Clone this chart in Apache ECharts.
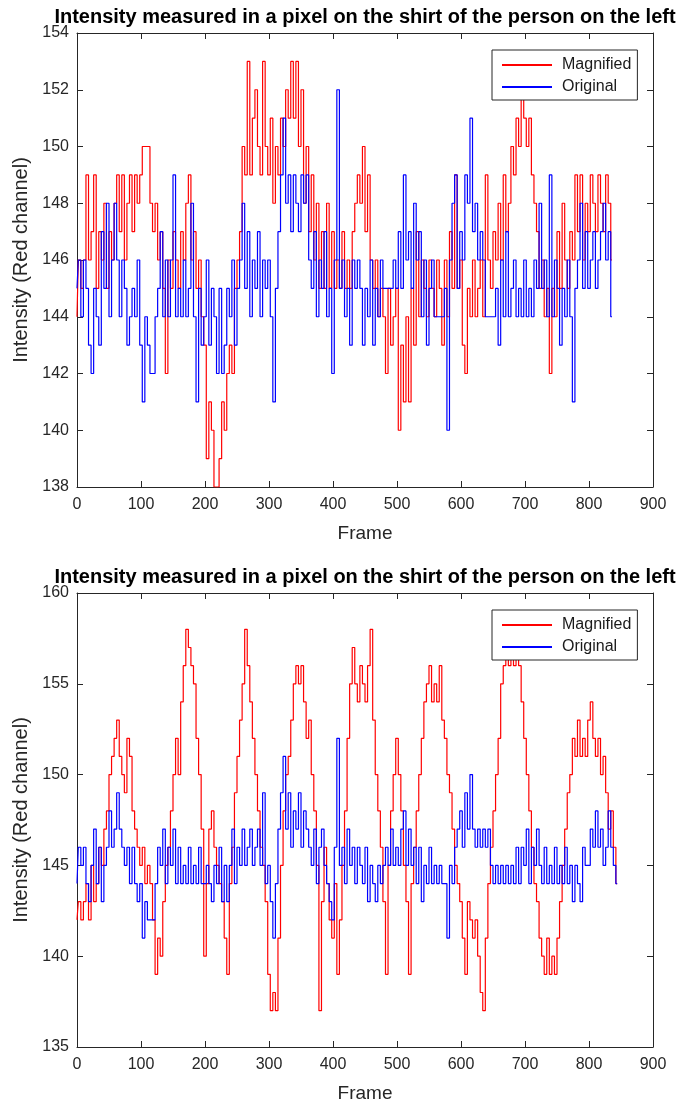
<!DOCTYPE html>
<html>
<head>
<meta charset="utf-8">
<title>Intensity</title>
<script src="https://cdn.jsdelivr.net/npm/echarts@6.0.0/dist/echarts.min.js"></script>
<style>
    body{margin:0;background:#fff;}
    #chart{width:678px;height:1106px;}
</style>
</head>
<body>
<div id="chart"></div>
<script>
// 帧间隔（每个数值对应的帧数）
var frameStep = 4;
var xTicks = [0, 100, 200, 300, 400, 500, 600, 700, 800, 900];
var topYTicks = [138, 140, 142, 144, 146, 148, 150, 152, 154];
var bottomYTicks = [135, 140, 145, 150, 155, 160];
var seriesNames = ['Magnified', 'Original'];
var titleText = 'Intensity measured in a pixel on the shirt of the person on the left';

// 上图 Magnified（红），每行 100 帧
var topMagnified = [
    144,146,145,146,149,146,147,149,145,147,146,148,145,147,146,148,149,147,149,146,148,149,147,149,148,
    149,150,150,150,148,147,148,146,147,145,142,146,145,147,146,145,147,146,148,149,146,147,145,146,144,
    143,139,141,140,138,138,139,141,140,142,143,142,145,146,147,150,149,153,149,151,152,150,149,153,150,
    149,151,148,150,149,151,150,152,151,153,151,153,150,152,148,150,147,149,146,148,145,147,145,148,145,
    147,145,146,145,147,145,146,145,147,148,149,148,150,147,149,146,145,146,144,145,144,142,145,143,144,
    145,140,143,141,144,141,145,143,147,144,146,145,144,146,145,144,146,145,143,146,144,147,145,149,145,
    146,143,142,145,144,146,144,145,146,144,149,146,145,147,146,148,146,149,147,148,150,149,151,150,152,
    151,150,151,149,148,147,145,146,144,145,142,145,144,147,145,148,146,145,147,146,149,147,149,146,148,
    147,149,148,147,149,148,147,149,148,146
];
// 上图 Original（蓝）
var topOriginal = [
    145,146,144,146,145,143,142,145,144,143,147,145,148,144,146,148,146,144,146,145,143,144,145,144,146,
    143,141,144,143,142,142,144,145,147,144,146,144,146,149,144,145,144,146,144,145,148,144,141,145,143,
    144,146,143,145,144,142,145,142,143,145,144,146,143,145,146,148,145,147,144,146,145,147,144,146,145,
    146,144,141,145,147,149,151,148,149,147,149,148,147,149,148,149,146,145,147,144,146,145,147,144,145,
    142,146,152,145,146,144,145,143,146,145,146,145,143,145,144,146,143,145,144,146,145,145,145,145,146,
    145,147,145,149,146,147,145,148,146,147,144,146,143,145,146,144,144,144,144,145,140,146,148,149,145,
    147,146,149,148,151,147,148,146,147,146,144,144,144,144,145,143,146,144,147,144,145,146,144,145,144,
    146,144,145,144,146,145,148,145,146,144,149,144,146,145,143,145,144,146,144,141,145,146,148,145,147,
    145,146,147,145,146,147,148,146,147,144
];
// 下图 Magnified（红）
var bottomMagnified = [
    142,143,142,143,144,142,145,143,144,146,145,147,148,150,151,152,153,151,150,149,152,151,148,147,146,
    145,146,144,145,144,142,139,141,140,143,145,146,148,150,152,150,154,156,158,157,156,155,152,150,147,
    140,144,147,148,146,145,144,143,141,139,144,146,149,151,153,155,158,156,154,152,150,148,146,145,143,
    139,137,138,137,141,145,148,150,151,153,155,156,155,156,154,152,153,150,148,145,137,143,146,144,142,
    141,144,139,142,145,148,152,155,157,155,154,156,155,154,156,158,153,150,148,146,143,139,145,148,150,
    152,150,148,145,143,139,144,146,148,150,152,154,155,156,154,155,154,156,153,152,150,149,147,145,144,
    143,141,139,143,142,141,142,140,138,137,141,144,146,148,150,152,155,156,157,156,157,156,157,156,154,
    152,150,148,146,144,143,141,140,139,141,139,140,139,141,143,145,147,149,150,152,151,153,151,152,151,
    153,154,152,151,152,150,151,149,147,148,146,144
];
// 下图 Original（蓝）
var bottomOriginal = [
    144,146,145,146,144,143,145,147,144,146,143,145,146,148,146,147,149,147,146,145,146,144,146,144,143,
    144,141,143,142,142,142,144,146,145,147,144,146,145,147,144,146,144,145,144,146,144,145,144,146,144,
    144,145,144,143,145,144,146,143,145,143,145,147,144,146,145,147,145,146,147,145,146,147,145,149,144,
    145,143,141,144,147,149,151,147,149,146,148,147,149,146,148,147,146,145,147,144,146,147,145,144,143,
    142,146,152,145,146,144,147,145,146,144,146,145,144,146,143,145,144,143,145,144,145,146,145,147,145,
    146,145,147,148,145,147,145,146,144,146,143,145,144,146,144,145,144,145,144,144,141,145,144,146,147,
    148,146,149,147,150,147,146,147,146,147,146,147,145,144,145,144,145,144,145,144,145,144,146,144,146,
    145,147,144,146,145,147,145,144,146,144,145,144,146,144,145,144,146,144,145,143,145,144,143,146,145,
    145,147,146,148,146,147,145,146,148,146,145,144
];

var fontName = "'Liberation Sans', Arial, sans-serif";
var axisColor = '#262626';

// 数组转成 [帧, 数值]
function toPairs(arr){
    var out = [];
    for(var i = 0; i < arr.length; i++){
        out.push([i * frameStep, arr[i]]);
    }
    return out;
}

function makeX(gridIndex, position, showLabel){
    return {
        type: 'value',
        gridIndex: gridIndex,
        position: position,
        min: xTicks[0],
        max: xTicks[xTicks.length - 1],
        interval: xTicks[1] - xTicks[0],
        name: showLabel ? 'Frame' : '',
        nameLocation: 'middle',
        nameGap: 37,
        nameTextStyle: {fontSize: 19, color: axisColor, fontFamily: fontName},
        axisLine: {show: true, onZero: false, lineStyle: {color: axisColor, width: 1}},
        axisTick: {show: true, inside: true, length: 6, lineStyle: {color: axisColor}},
        axisLabel: {show: showLabel, margin: 10, fontSize: 16, color: axisColor, fontFamily: fontName},
        splitLine: {show: false}
    };
}

function makeY(gridIndex, position, showLabel, ticks){
    return {
        type: 'value',
        gridIndex: gridIndex,
        position: position,
        min: ticks[0],
        max: ticks[ticks.length - 1],
        interval: ticks[1] - ticks[0],
        name: showLabel ? 'Intensity (Red channel)' : '',
        nameLocation: 'middle',
        nameGap: 40,
        nameTextStyle: {fontSize: 20, color: axisColor, fontFamily: fontName},
        // 不要贴到 x=0 的位置
        axisLine: {show: true, onZero: false, lineStyle: {color: axisColor, width: 1}},
        axisTick: {show: true, inside: true, length: 6, lineStyle: {color: axisColor}},
        axisLabel: {show: showLabel, margin: 8, fontSize: 16, color: axisColor, fontFamily: fontName},
        splitLine: {show: false}
    };
}

function makeLegend(top){
    return {
        data: seriesNames,
        orient: 'vertical',
        left: 492,
        top: top,
        padding: [7, 6, 5, 10],
        itemGap: 6,
        itemWidth: 50,
        itemHeight: 2,
        icon: 'rect',
        backgroundColor: '#fff',
        borderColor: axisColor,
        borderWidth: 1,
        borderRadius: 0,
        z: 10,
        textStyle: {fontSize: 16, color: '#1a1a1a', fontFamily: fontName, padding: [0, 0, 0, 5]}
    };
}

function makeLine(name, color, arr, axisIndex){
    return {
        name: name,
        type: 'line',
        xAxisIndex: axisIndex,
        yAxisIndex: axisIndex,
        data: toPairs(arr),
        step: 'middle',
        showSymbol: false,
        symbol: 'none',
        color: color,
        lineStyle: {color: color, width: 1.2},
        animation: false
    };
}

var myChart = echarts.init(document.getElementById('chart'));
var option = {
    backgroundColor: '#fff',
    animation: false,
    title: [
        {text: titleText, left: 360, top: 2, textAlign: 'center',
            textStyle: {fontSize: 20, fontWeight: 'bold', color: '#000', fontFamily: fontName}},
        {text: titleText, left: 360, top: 562, textAlign: 'center',
            textStyle: {fontSize: 20, fontWeight: 'bold', color: '#000', fontFamily: fontName}}
    ],
    legend: [makeLegend(50), makeLegend(610)],
    grid: [
        {left: 77, top: 33, width: 576, height: 454, containLabel: false, outerBoundsMode: 'none'},
        {left: 77, top: 593, width: 576, height: 454, containLabel: false, outerBoundsMode: 'none'}
    ],
    xAxis: [
        makeX(0, 'bottom', true),
        makeX(0, 'top', false),
        makeX(1, 'bottom', true),
        makeX(1, 'top', false)
    ],
    yAxis: [
        makeY(0, 'left', true, topYTicks),
        makeY(0, 'right', false, topYTicks),
        makeY(1, 'left', true, bottomYTicks),
        makeY(1, 'right', false, bottomYTicks)
    ],
    series: [
        makeLine('Magnified', '#ff0000', topMagnified, 0),
        makeLine('Original', '#0000ff', topOriginal, 0),
        makeLine('Magnified', '#ff0000', bottomMagnified, 2),
        makeLine('Original', '#0000ff', bottomOriginal, 2)
    ]
};
myChart.setOption(option);
</script>
</body>
</html>
